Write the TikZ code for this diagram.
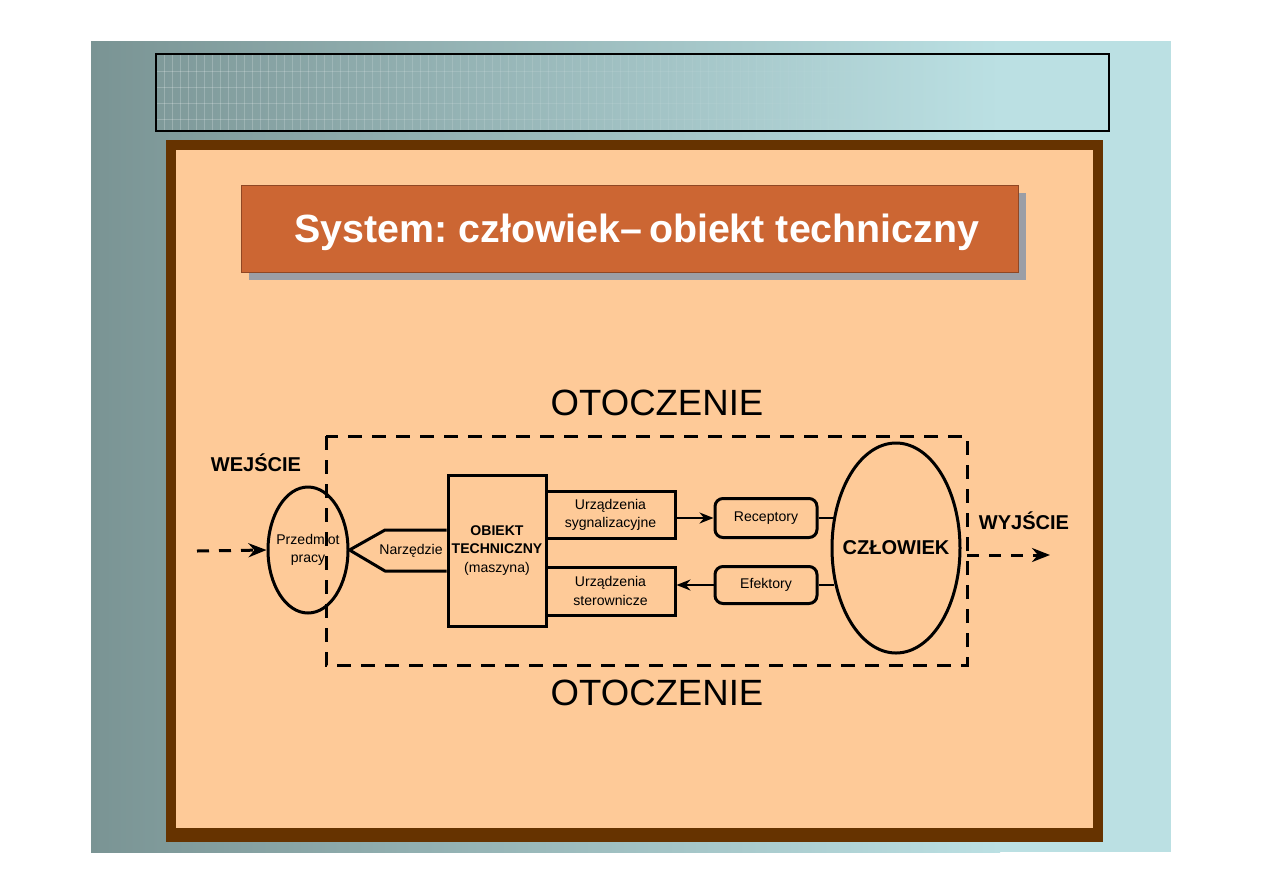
\documentclass[tikz,border=0pt]{standalone}
\usepackage{fontspec}
\setmainfont{Liberation Sans}
\usetikzlibrary{shapes.geometric, arrows.meta, positioning, calc}
\definecolor{Slide_Dark}{HTML}{7A9494}
\definecolor{Slide_Light}{HTML}{BBE0E3}
\definecolor{Frame_Brown}{HTML}{663300}
\definecolor{Frame_Peach}{HTML}{FECA98}
\definecolor{Title_Orange}{HTML}{CC6633}
\definecolor{Title_Shadow}{HTML}{9B9EA6}
\frenchspacing

\begin{document}
\begin{tikzpicture}[
    x=0.5mm, y=-0.5mm,
    txt/.style={font=\fontsize{20}{26}\selectfont, align=center, inner sep=0pt},
    label/.style={font=\fontsize{28.5}{32}\selectfont\bfseries, inner sep=0pt},
    env/.style={font=\fontsize{52}{60}\selectfont, inner sep=0pt},
    box/.style={draw=black, line width=1.5mm, txt},
    rbox/.style={box, rounded corners=4mm},
    oval/.style={ellipse, draw=black, line width=1.5mm, inner sep=0pt},
    arr/.style={-{Stealth[length=7mm, width=5.5mm]}, line width=1mm},
    dashline/.style={line width=1.5mm, dash pattern=on 7mm off 5mm},
    io/.style={dashline, dash pattern=on 6mm off 5mm, -{Stealth[length=9mm, width=7mm]}}
]
\useasboundingbox (0,0) rectangle (1263,893);

% slide background
\fill[white] (0,0) rectangle (1263,893);
\fill[Slide_Light] (91,41) rectangle (1171,852);
\shade[left color=Slide_Dark, right color=Slide_Light] (91,41) rectangle (1000,852);

% header band with fading grid
\foreach \gx in {156,164,...,1100}{
  \pgfmathsetmacro\gop{max(0,0.22-0.22*(\gx-156)/750)}
  \draw[white, line width=0.25mm, opacity=\gop] (\gx,54) -- (\gx,131);
  \foreach \gy in {71,87,103,119}
    \draw[white, line width=0.25mm, opacity=\gop] (\gx,\gy) -- ++(8,0);
}
\draw[black, line width=0.7mm] (156,54) rectangle (1109,131);

% frame
\fill[Frame_Brown] (166,140) rectangle (1103,842);
\fill[Frame_Peach] (176,150) rectangle (1093,828);

% title
\fill[Title_Shadow] (249,193) rectangle (1026,280);
\node[draw=Title_Orange!70!black, line width=0.3mm, fill=Title_Orange, minimum width=388.5mm, minimum height=43.5mm] (title) at (629.5,228.5) {};
\node[text=white, font=\fontsize{56}{60}\selectfont\bfseries, inner sep=0pt] (ttl) at (637,232) {System: człowiek–\,obiekt techniczny};

% environment
\node[env] (ot1) at (657,403) {OTOCZENIE};
\node[env] (ot2) at (657,693) {OTOCZENIE};
\node[label] (wej) at (256,463) {WEJŚCIE};
\node[label] (wyj) at (1024,521) {WYJŚCIE};

% blocks
\node[oval, minimum width=40mm, minimum height=63mm] (pp) at (308,550) {};
\node[txt] (ppt) at (pp) {Przedmiot\\pracy};
\node[box, minimum width=49mm, minimum height=75.5mm] (ob) at (497,550.5) {\bfseries OBIEKT\\\bfseries TECHNICZNY\\(maszyna)};
\node[box, minimum width=64.5mm, minimum height=23.5mm] (us) at (610.5,515) {Urządzenia\\sygnalizacyjne};
\node[box, minimum width=64.5mm, minimum height=24mm] (ust) at (610.5,591) {Urządzenia\\sterownicze};
\node[rbox, minimum width=51mm, minimum height=19.5mm] (rec) at (766,518) {Receptory};
\node[rbox, minimum width=51mm, minimum height=18.5mm] (efe) at (766,585) {Efektory};
\node[oval, minimum width=64mm, minimum height=105mm] (czl) at (896,548) {};
\node[label] (czlt) at (czl) {CZŁOWIEK};

% tool
\node[txt] (nar) at (411,551) {Narzędzie};
\coordinate (nt) at (385,530);
\coordinate (nb) at (385,571);
\draw[line width=1.5mm, line join=round] (pp.east) -- (nt) -- (nt -| ob.west);
\draw[line width=1.5mm, line join=round] (pp.east) -- (nb) -- (nb -| ob.west);

% signal paths
\draw[arr] (us.east |- rec.west) -- (rec.west);
\draw[arr] (efe.west) -- (efe.west -| ust.east);
\draw[line width=1mm, shorten >=-1.5mm] (rec.east) -- (rec.east -| czl.west);
\draw[line width=1mm, shorten >=-1.5mm] (efe.east) -- (efe.east -| czl.west);

% system boundary
\draw[dashline] (326,436) rectangle (967,665);

% input / output
\coordinate (in) at (197,551);
\coordinate (outA) at (967,555);
\coordinate (outB) at (1050,555);
\draw[io] (in) -- (pp.west);
\draw[io] (outA) -- (outB);
\end{tikzpicture}
\end{document}
